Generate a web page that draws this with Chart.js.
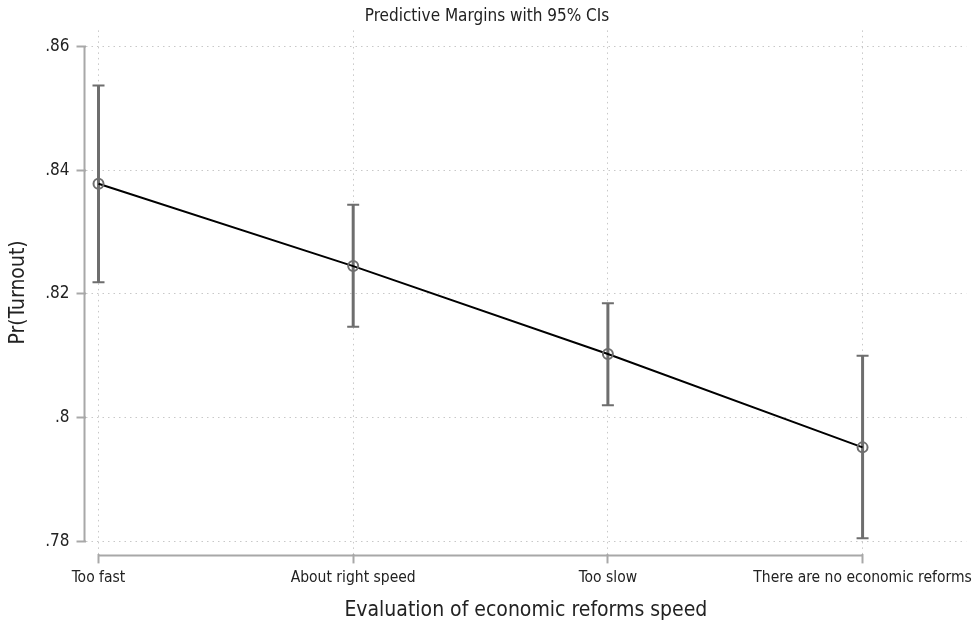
<!DOCTYPE html>
<html>
<head>
<meta charset="utf-8">
<script src="https://cdn.jsdelivr.net/npm/chart.js@4/dist/chart.umd.min.js"></script>
<style>
  body { margin: 0; background: #fff; }
  #wrap { width: 978px; height: 621px; }
</style>
</head>
<body>
<div id="wrap"><canvas id="marginsChart" width="978" height="621"></canvas></div>
<script>
// Predictive margins of turnout by evaluation of reform speed
const categories = ['Too fast', 'About right speed', 'Too slow', 'There are no economic reforms'];
const margins = [0.8378, 0.8245, 0.8103, 0.7952];
const ciLow = [0.8219, 0.8147, 0.8020, 0.7805];
const ciHigh = [0.8537, 0.8344, 0.8185, 0.8100];
const yTicks = [0.78, 0.80, 0.82, 0.84, 0.86];

const FONT = "'Liberation Sans Narrow', 'DejaVu Sans Condensed', 'Roboto', sans-serif";
const axisGray = '#a8a8a8';
const barGray = '#6e6e6e';

// error bars with caps, drawn behind the line and markers
const errorBars = {
  id: 'errorBars',
  beforeDatasetsDraw(chart) {
    const { ctx, scales: { x, y } } = chart;
    ctx.save();
    ctx.strokeStyle = barGray;
    margins.forEach((m, i) => {
      const px = x.getPixelForValue(i);
      const top = y.getPixelForValue(ciHigh[i]);
      const bot = y.getPixelForValue(ciLow[i]);
      ctx.lineWidth = 3;
      ctx.beginPath();
      ctx.moveTo(px, top);
      ctx.lineTo(px, bot);
      ctx.stroke();
      ctx.lineWidth = 2;
      ctx.beginPath();
      ctx.moveTo(px - 6, top); ctx.lineTo(px + 6, top);
      ctx.moveTo(px - 6, bot); ctx.lineTo(px + 6, bot);
      ctx.stroke();
    });
    ctx.restore();
  }
};

// Stata-style axis lines that only span the tick range
const axisLines = {
  id: 'axisLines',
  afterDraw(chart) {
    const { ctx, chartArea, scales: { x, y } } = chart;
    ctx.save();
    ctx.strokeStyle = axisGray;
    ctx.lineWidth = 2;
    ctx.beginPath();
    ctx.moveTo(chartArea.left - 1, y.getPixelForValue(yTicks[yTicks.length - 1]));
    ctx.lineTo(chartArea.left - 1, y.getPixelForValue(yTicks[0]));
    ctx.moveTo(x.getPixelForValue(0), chartArea.bottom + 1);
    ctx.lineTo(x.getPixelForValue(categories.length - 1), chartArea.bottom + 1);
    ctx.stroke();
    ctx.restore();
  }
};

const ctx = document.getElementById('marginsChart').getContext('2d');
new Chart(ctx, {
  type: 'line',
  data: {
    datasets: [{
      data: margins.map((m, i) => ({ x: i, y: m })),
      borderColor: '#000',
      borderWidth: 2,
      pointRadius: 5,
      pointBorderWidth: 2,
      pointBorderColor: barGray,
      pointBackgroundColor: 'rgba(0,0,0,0)',
      tension: 0
    }]
  },
  options: {
    responsive: false,
    animation: false,
    layout: { padding: { top: 0, right: 10, left: 6, bottom: 0 } },
    plugins: {
      legend: { display: false },
      tooltip: { enabled: false },
      title: {
        display: true,
        text: 'Predictive Margins with 95% CIs',
        color: '#222',
        font: { family: FONT, size: 17, weight: 'normal' },
        padding: { top: 6, bottom: 4 }
      }
    },
    scales: {
      x: {
        type: 'linear',
        min: -0.051,
        max: 3.407,
        afterBuildTicks: (s) => { s.ticks = categories.map((c, i) => ({ value: i })); },
        ticks: {
          callback: (v) => categories[v],
          color: '#222',
          font: { family: FONT, size: 15.5 },
          maxRotation: 0,
          padding: 5
        },
        grid: {
          color: '#c8c8c8',
          lineWidth: 1,
          tickLength: 9,
          tickColor: axisGray,
          tickWidth: 2,
          tickBorderDash: []
        },
        border: { display: false, dash: [1.5, 4] },
        title: {
          display: true,
          text: 'Evaluation of economic reforms speed',
          color: '#222',
          font: { family: FONT, size: 21, lineHeight: 1 },
          padding: { top: 8, bottom: 0 }
        }
      },
      y: {
        min: 0.7779,
        max: 0.8626,
        afterBuildTicks: (s) => { s.ticks = yTicks.map(v => ({ value: v })); },
        ticks: {
          callback: (v) => v.toFixed(2).replace(/^0/, '').replace(/0$/, ''),
          color: '#222',
          font: { family: FONT, size: 17 },
          padding: 7
        },
        grid: {
          color: '#c8c8c8',
          lineWidth: 1,
          tickLength: 9,
          tickColor: axisGray,
          tickWidth: 2,
          tickBorderDash: []
        },
        border: { display: false, dash: [1.5, 4] },
        title: {
          display: true,
          text: 'Pr(Turnout)',
          color: '#222',
          font: { family: FONT, size: 21 },
          padding: { top: 0, bottom: 7 }
        }
      }
    }
  },
  plugins: [errorBars, axisLines]
});
</script>
</body>
</html>
